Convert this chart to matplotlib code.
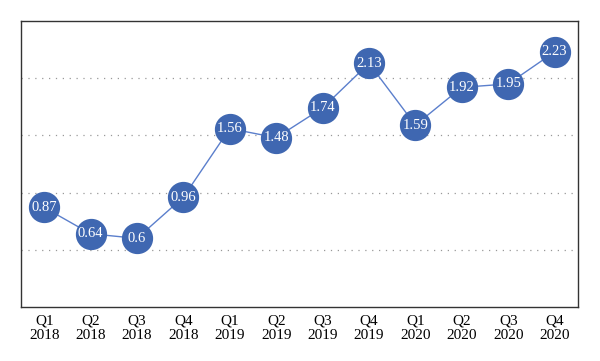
import matplotlib.pyplot as plt
import numpy as np

quarters = ['Q1', 'Q2', 'Q3', 'Q4'] * 3
years = ['2018'] * 4 + ['2019'] * 4 + ['2020'] * 4
values = [0.87, 0.64, 0.6, 0.96, 1.56, 1.48, 1.74, 2.13, 1.59, 1.92, 1.95, 2.23]

plt.rcParams['font.family'] = ['Liberation Serif', 'DejaVu Serif']

fig = plt.figure(figsize=(6, 3.61), dpi=100)
ax = fig.add_axes([0.035, 0.1496, 0.928, 0.7922])

x = np.arange(len(values))
ax.plot(x, values, color='#5B7FCC', linewidth=1.0, zorder=2)
ax.plot(x, values, linestyle='none', marker='o', markersize=21.5,
        markerfacecolor='#3F67B1', markeredgecolor='#3F67B1', zorder=3)
for xi, v in zip(x, values):
    ax.text(xi, v, f'{v:g}', color='white', fontsize=10.5,
            ha='center', va='center', zorder=4)

ax.set_xlim(-0.5, len(values) - 0.5)
ax.set_ylim(0, 2.5)
ax.set_yticks(np.arange(0.5, 2.5, 0.5))
ax.yaxis.grid(True, linestyle=(0, (1, 4.5)), color='#999999', linewidth=0.9)
ax.set_axisbelow(True)
ax.set_xticks(x)
ax.set_xticklabels([f'{q}\n{y}' for q, y in zip(quarters, years)],
                   fontsize=11, linespacing=1.15)
ax.tick_params(axis='both', length=0)
ax.tick_params(axis='x', pad=5.5)
ax.set_yticklabels([])
for s in ax.spines.values():
    s.set_color('#333333')
    s.set_linewidth(1.0)

fig.savefig('out.png', dpi=100)
